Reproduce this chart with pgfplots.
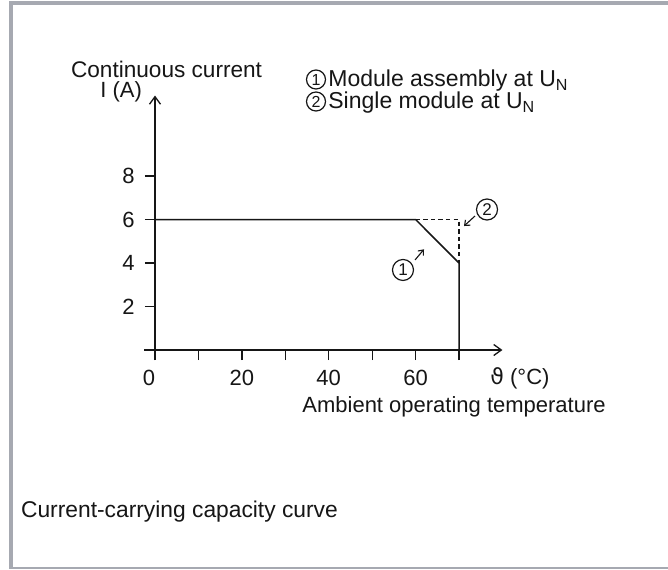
\documentclass[border=0pt]{standalone}
\usepackage{fontspec}
\setmainfont{Liberation Sans}
\newfontfamily\dejavu{DejaVu Sans}
\usepackage{pgfplots}
\pgfplotsset{compat=1.18}
\usetikzlibrary{arrows.meta}
\definecolor{framegray}{RGB}{166,169,177}
\definecolor{ink}{RGB}{22,22,22}
\tikzset{
  circ/.style={circle, draw=ink, line width=0.6pt, inner sep=0pt, minimum size=9.5pt, font=\fontsize{8}{9}\selectfont, text=ink},
  circb/.style={circle, draw=ink, line width=0.6pt, inner sep=0pt, minimum size=10.5pt, font=\fontsize{8.5}{9}\selectfont, text=ink},
  pointer/.style={ink, line width=0.55pt, -{Straight Barb[length=2.2pt,width=3.6pt]}}
}
\begin{document}
\fontsize{11}{13}\selectfont
\begin{tikzpicture}
\begin{scope}[x=0.5pt,y=-0.5pt]
  \fill[white] (0,0) rectangle (668,569);
  \fill[framegray] (9,0.5) rectangle (668,4.5);
  \fill[framegray] (9.3,0.5) rectangle (12.7,569);
  \fill[framegray] (9,566.5) rectangle (668,569);
  \node[anchor=base west, inner sep=0pt, text=ink, font=\fontsize{11.3}{13}\selectfont] at (70.7,77) {Continuous current};
  \node[anchor=base west, inner sep=0pt, text=ink] at (100,97) {I (A)};
  \node[circ] at (316,79.5) {1};
  \node[anchor=base west, inner sep=0pt, text=ink, font=\fontsize{11.5}{13}\selectfont] at (328,86.5) {Module assembly at U\textsubscript{N}};
  \node[circ] at (316,101.5) {2};
  \node[anchor=base west, inner sep=0pt, text=ink, font=\fontsize{11.5}{13}\selectfont] at (328,108.5) {Single module at U\textsubscript{N}};
  \node[anchor=base west, inner sep=0pt, text=ink] at (490,384) {{\dejavu ϑ} (°C)};
  \node[anchor=base west, inner sep=0pt, text=ink] at (302,412) {Ambient operating temperature};
  \node[anchor=base west, inner sep=0pt, text=ink, font=\fontsize{11.4}{13}\selectfont] at (20.7,517) {Current-carrying capacity curve};
\end{scope}
\begin{axis}[
  anchor=south west, at={(72.07pt,-180pt)},
  x=2.1715pt, y=10.875pt,
  xmin=-2.5, xmax=80, ymin=-0.46, ymax=11.7,
  axis lines=middle,
  axis line style={ink, line width=0.65pt, -{Straight Barb[length=3.8pt,width=5.5pt]}},
  hide obscured x ticks=false, hide obscured y ticks=false,
  tick style={ink, line width=0.65pt},
  major tick length=5pt, tick align=outside,
  xtick={0,10,...,70}, xticklabels={\llap{0},,20,,40,,60,},
  ytick={2,4,6,8},
  /pgf/number format/assume math mode=true,
  ticklabel style={font=\fontsize{11}{13}\selectfont, text=ink},
  xticklabel style={anchor=base, inner sep=0pt, yshift=-12.5pt},
  yticklabel style={anchor=east, inner sep=0pt, xshift=-5pt},
  clip=false,
]
\addplot[ink, line width=0.75pt] coordinates {(0,6) (60,6) (70,4) (70,0)};
\addplot[ink, line width=0.75pt, dash pattern=on 2.2pt off 1.6pt] coordinates {(60,6) (70,6) (70,4)};
\node[circb] at (axis cs:57.1,3.68) {1};
\draw[pointer] (axis cs:59.87,4.14) -- (axis cs:61.94,4.63);
\node[circb] at (axis cs:76.45,6.46) {2};
\draw[pointer] (axis cs:73.68,6.16) -- (axis cs:71.15,5.70);
\end{axis}
\pgfresetboundingbox
\useasboundingbox (0,0) rectangle (334pt,-284.5pt);
\end{tikzpicture}
\end{document}
